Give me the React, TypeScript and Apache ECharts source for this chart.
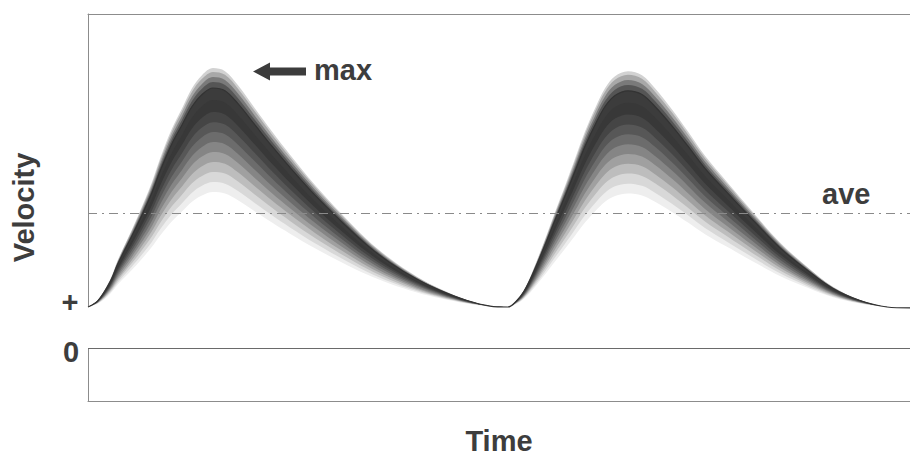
import React, { useEffect, useRef } from "react";
import * as echarts from "echarts";

// Time samples (arbitrary units) and the outer edge of the velocity trace band
const timePoints = [
  0, 1.0, 2.2, 3.0, 4.4, 5.2, 6.4, 7.2, 8.4, 9.4, 10.4, 11.4, 12.5, 13.7, 15.0,
  16.7, 18.4, 20.2, 22.7, 25.2, 27.9, 30.2, 32.9, 35.2, 37.9, 40.2, 42.0,
  42.8, 43.6, 44.4, 45.7, 46.7, 47.7, 48.7, 49.7, 50.7, 51.7, 52.7, 54.0, 55.4,
  56.7, 58.4, 60.0, 61.7, 63.9, 66.5, 69.2, 71.9, 74.5, 77.2, 79.9, 82.2,
];
const outerVelocity = [
  4.1, 4.8, 6.8, 8.8, 11.8, 13.6, 16.5, 18.8, 21.8, 23.8, 25.8, 27.1, 27.8, 27.5, 26.1,
  23.8, 21.5, 19.2, 16.2, 13.5, 10.8, 8.9, 7.1, 5.9, 4.8, 4.2, 4.1,
  4.7, 5.8, 7.5, 10.8, 13.5, 16.1, 18.8, 21.5, 23.8, 25.8, 27.0, 27.5, 27.1,
  25.8, 23.7, 21.5, 19.1, 16.5, 13.5, 10.5, 8.1, 6.1, 4.8, 4.1, 4.0,
];
const minVelocity = 4.1;
const aveVelocity = 13.5;
// relative amplitude of the trace-density levels (outer -> inner) and their shading
const bandLevels = [1.008, 0.992, 0.97, 0.949, 0.924, 0.873, 0.823, 0.78, 0.738, 0.696, 0.654, 0.612, 0.57, 0.527, 0.485];
const bandShades = [
  "#d2d2d2", "#a8a8a8", "#7a7a7a", "#555555", "#3c3c3c", "#383838", "#454545", "#575757",
  "#6c6c6c", "#858585", "#a0a0a0", "#bdbdbd", "#d8d8d8", "#eeeeee", "#ffffff",
];
const edgeLevel = 0.924;

const TEXT = "#3d3d3d";
const FAMILY = '"Liberation Sans", Arial, sans-serif';
const FONT = 'bold 29px "Liberation Sans", Arial, sans-serif';

function levelData(s: number) {
  return timePoints.map((t, i) => [t, minVelocity + s * (outerVelocity[i] - minVelocity)]);
}

export default function App() {
  const ref = useRef<HTMLDivElement>(null);
  useEffect(() => {
    if (!ref.current) return;
    const chart = echarts.init(ref.current, null, { renderer: "svg" });
    const series: any[] = bandLevels.map((s, k) => ({
      type: "line",
      data: levelData(s),
      showSymbol: false,
      symbol: "none",
      smooth: 0.35,
      silent: true,
      lineStyle: { width: 0 },
      areaStyle: { color: bandShades[k], opacity: 1, origin: "auto" },
    }));
    series.push({
      type: "line",
      data: levelData(edgeLevel),
      showSymbol: false,
      symbol: "none",
      smooth: 0.35,
      silent: true,
      lineStyle: { width: 1.2, color: "#333" },
      markLine: {
        silent: true,
        symbol: "none",
        label: { show: false },
        data: [
          { yAxis: 0, lineStyle: { color: "#6a6a6a", width: 1, type: "solid" } },
          { yAxis: aveVelocity, lineStyle: { color: "#8a8a8a", width: 1, type: [9, 5, 2, 5] } },
        ],
      },
    });
    const frameLine = { show: true, onZero: false, lineStyle: { color: "#8c8c8c", width: 1 } };
    chart.setOption({
      animation: false,
      backgroundColor: "#fff",
      grid: { left: 88, right: 0, top: 14, bottom: 54, outerBoundsMode: "none", containLabel: false },
      xAxis: [
        {
          type: "value",
          min: 0,
          max: 82.2,
          position: "bottom",
          axisLine: frameLine,
          axisTick: { show: false },
          axisLabel: { show: false },
          splitLine: { show: false },
          name: "Time",
          nameLocation: "middle",
          nameGap: 25,
          nameTextStyle: { color: TEXT, fontSize: 29, fontWeight: "bold", fontFamily: FAMILY },
        },
        {
          type: "value",
          min: 0,
          max: 82.2,
          position: "top",
          axisLine: frameLine,
          axisTick: { show: false },
          axisLabel: { show: false },
          splitLine: { show: false },
        },
      ],
      yAxis: {
        type: "value",
        min: -5.3,
        max: 33.4,
        axisLine: frameLine,
        axisTick: { show: false },
        axisLabel: { show: false },
        splitLine: { show: false },
        name: "Velocity",
        nameLocation: "middle",
        nameRotate: 90,
        nameGap: 50,
        nameTextStyle: { color: TEXT, fontSize: 29, fontWeight: "bold", fontFamily: FAMILY },
      },
      series,
      graphic: [
        {
          type: "polygon",
          shape: { points: [[253, 71.5], [270, 62.5], [270, 67.5], [306, 67.5], [306, 75.5], [270, 75.5], [270, 80.5]] },
          style: { fill: "#3c3c3c" },
        },
        {
          type: "polygon",
          shape: { points: [[543, 302], [560, 293], [560, 298], [597, 298], [597, 306], [560, 306], [560, 311]] },
          style: { fill: "#3c3c3c" },
        },
        { type: "text", style: { text: "max", x: 314, y: 70, font: FONT, fill: TEXT, textAlign: "left", textVerticalAlign: "middle" } },
        { type: "text", style: { text: "min", x: 604, y: 299, font: FONT, fill: TEXT, textAlign: "left", textVerticalAlign: "middle" } },
        { type: "text", style: { text: "ave", x: 822, y: 194, font: FONT, fill: TEXT, textAlign: "left", textVerticalAlign: "middle" } },
        { type: "text", style: { text: "+", x: 70, y: 302, font: FONT, fill: TEXT, textAlign: "center", textVerticalAlign: "middle" } },
        { type: "text", style: { text: "0", x: 71, y: 352, font: FONT, fill: TEXT, textAlign: "center", textVerticalAlign: "middle" } },
      ],
    });
    return () => chart.dispose();
  }, []);
  return (
    <div
      ref={ref}
      style={{ position: "absolute", left: 0, top: 0, width: 910, height: 455, background: "#fff" }}
    />
  );
}
